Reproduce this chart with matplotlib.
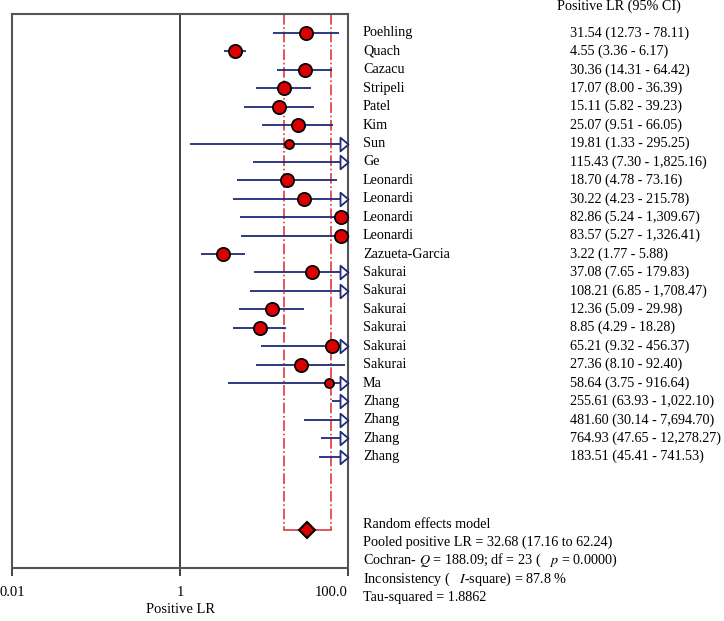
import matplotlib
matplotlib.use("Agg")
import matplotlib.pyplot as plt
from matplotlib.path import Path
from matplotlib.transforms import blended_transform_factory

plt.rcParams['font.family'] = ['Liberation Serif', 'DejaVu Serif']
plt.rcParams['mathtext.fontset'] = 'stix'

studies = ['Poehling', 'Quach', 'Cazacu', 'Stripeli', 'Patel', 'Kim', 'Sun', 'Ge',
           'Leonardi', 'Leonardi', 'Leonardi', 'Leonardi', 'Zazueta-Garcia',
           'Sakurai', 'Sakurai', 'Sakurai', 'Sakurai', 'Sakurai', 'Sakurai', 'Ma',
           'Zhang', 'Zhang', 'Zhang', 'Zhang']
lr = [31.54, 4.55, 30.36, 17.07, 15.11, 25.07, 19.81, 115.43,
      18.70, 30.22, 82.86, 83.57, 3.22,
      37.08, 108.21, 12.36, 8.85, 65.21, 27.36, 58.64,
      255.61, 481.60, 764.93, 183.51]
lo = [12.73, 3.36, 14.31, 8.00, 5.82, 9.51, 1.33, 7.30,
      4.78, 4.23, 5.24, 5.27, 1.77,
      7.65, 6.85, 5.09, 4.29, 9.32, 8.10, 3.75,
      63.93, 30.14, 47.65, 45.41]
hi = [78.11, 6.17, 64.42, 36.39, 39.23, 66.05, 295.25, 1825.16,
      73.16, 215.78, 1309.67, 1326.41, 5.88,
      179.83, 1708.47, 29.98, 18.28, 456.37, 92.40, 916.64,
      1022.10, 7694.70, 12278.27, 741.53]
# marker size (study weight), small for the imprecise ones
weight = [9.5, 9.5, 9.5, 9.5, 9.5, 9.5, 6.5, 9.5,
          9.5, 9.5, 9.5, 9.5, 9.5,
          9.5, 9.5, 9.5, 9.5, 9.5, 9.5, 6.5,
          9.5, 9.5, 9.5, 9.5]

pooled = 32.68
pooled_lo = 17.16
pooled_hi = 62.24

ci_text = ['31.54 (12.73 - 78.11)', '4.55 (3.36 - 6.17)', '30.36 (14.31 - 64.42)',
           '17.07 (8.00 - 36.39)', '15.11 (5.82 - 39.23)', '25.07 (9.51 - 66.05)',
           '19.81 (1.33 - 295.25)', '115.43 (7.30 - 1,825.16)', '18.70 (4.78 - 73.16)',
           '30.22 (4.23 - 215.78)', '82.86 (5.24 - 1,309.67)', '83.57 (5.27 - 1,326.41)',
           '3.22 (1.77 - 5.88)', '37.08 (7.65 - 179.83)', '108.21 (6.85 - 1,708.47)',
           '12.36 (5.09 - 29.98)', '8.85 (4.29 - 18.28)', '65.21 (9.32 - 456.37)',
           '27.36 (8.10 - 92.40)', '58.64 (3.75 - 916.64)', '255.61 (63.93 - 1,022.10)',
           '481.60 (30.14 - 7,694.70)', '764.93 (47.65 - 12,278.27)', '183.51 (45.41 - 741.53)']

summary = ['Random effects model',
           'Pooled positive LR = 32.68 (17.16 to 62.24)',
           'Cochran- $Q$ = 188.09; df = 23 (   $p$ = 0.0000)',
           'Inconsistency (   $I$-square) = 87.8 %',
           'Tau-squared = 1.8862']

xmin, xmax = 0.01, 100
navy = '#1f2a78'
red = '#e03a3a'

fig = plt.figure(figsize=(7.24, 6.21), dpi=100)
ax = fig.add_axes([12 / 724, 1 - 568 / 621, 336 / 724, 554 / 621])
ax.set_xscale('log')
ax.set_xlim(xmin, xmax)
ax.set_ylim(29.04, -1.03)

pooled_row = 27

# reference line at 1
ax.axvline(1, color='#333333', lw=1.3, zorder=1)

# pooled CI box
ax.plot([pooled_lo, pooled_lo], [-1.03, pooled_row], color=red, lw=1.2, ls='-.', zorder=2)
ax.plot([pooled_hi, pooled_hi], [-1.03, pooled_row], color=red, lw=1.2, ls='-.', zorder=2)
ax.plot([pooled_lo, pooled_hi], [pooled_row, pooled_row], color=red, lw=1.2, zorder=2)
ax.plot([pooled], [pooled_row], marker='D', ms=8, mfc='#dd0000', mec='black', mew=1.5,
        zorder=5, clip_on=False)

arrow = Path([(0, 0), (-1, 0.85), (-1, -0.85), (0, 0)],
             [Path.MOVETO, Path.LINETO, Path.LINETO, Path.CLOSEPOLY])

for i in range(len(studies)):
    x0 = max(lo[i], xmin)
    x1 = min(hi[i], xmax)
    ax.plot([x0, x1], [i, i], color=navy, lw=1.3, zorder=3, solid_capstyle='butt')
    if hi[i] > xmax:
        ax.plot([xmax], [i], marker=arrow, ms=11.5, mfc='white', mec=navy, mew=1.3,
                zorder=3, clip_on=False)
    if lr[i] <= xmax:
        ax.plot([lr[i]], [i], marker='o', ms=weight[i], mfc='#dd0000', mec='black',
                mew=1.3, zorder=4, clip_on=False)

for s in ax.spines.values():
    s.set_color('#555555')
    s.set_linewidth(1.5)

ax.set_yticks([])
ax.minorticks_off()
ax.set_xticks([0.01, 1, 100])
ax.set_xticklabels(['0.01', '1', '100.0'], fontsize=10.5)
ax.get_xticklabels()[-1].set_horizontalalignment('right')
ax.tick_params(axis='x', direction='out', length=6, width=1.3, color='#333333', pad=7)
ax.set_xlabel('Positive LR', fontsize=10.5, labelpad=3)

tr = blended_transform_factory(fig.transFigure, ax.transData)
ax.text(557 / 724, -1.43, 'Positive LR (95% CI)', transform=tr, fontsize=10.2,
        va='center', ha='left', clip_on=False)
for i in range(len(studies)):
    ax.text(363 / 724, i, studies[i], transform=tr, fontsize=10.2, va='center', ha='left')
    ax.text(570 / 724, i, ci_text[i], transform=tr, fontsize=10.2, va='center', ha='left')
for k, line in enumerate(summary):
    ax.text(363 / 724, 26.66 + k * 0.99, line, transform=tr, fontsize=10.2,
            va='center', ha='left')

fig.savefig('out.png', dpi=100)
